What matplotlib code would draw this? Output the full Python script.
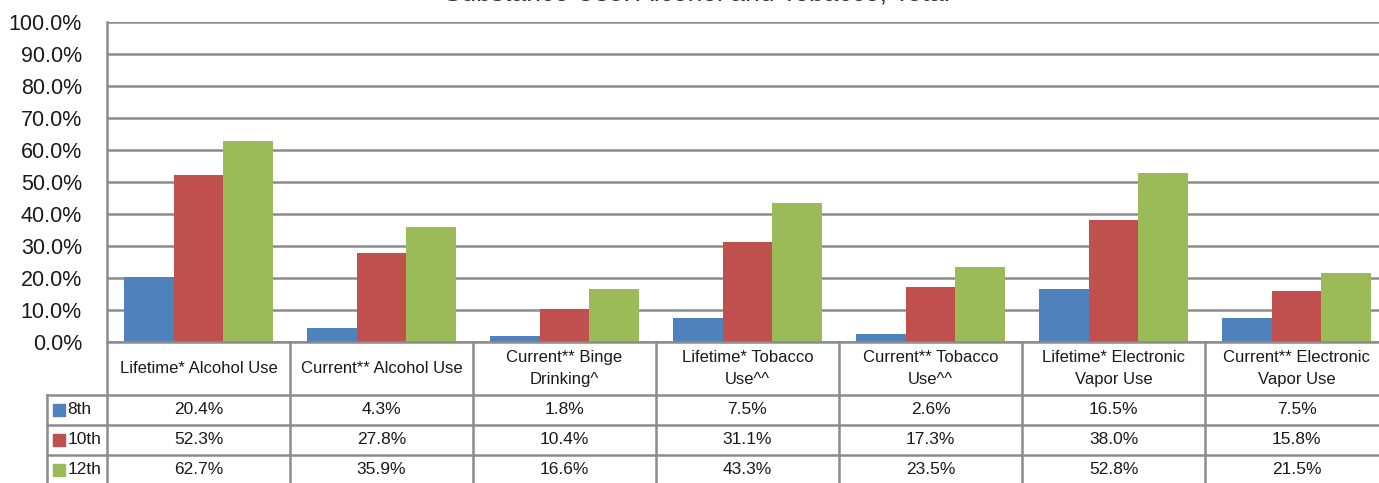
import matplotlib
matplotlib.use("Agg")
import matplotlib.pyplot as plt
import numpy as np

categories = ["Lifetime* Alcohol Use", "Current** Alcohol Use", "Current** Binge\nDrinking^",
              "Lifetime* Tobacco\nUse^^", "Current** Tobacco\nUse^^", "Lifetime* Electronic\nVapor Use",
              "Current** Electronic\nVapor Use"]
grades = ["8th", "10th", "12th"]
g8 = [20.4, 4.3, 1.8, 7.5, 2.6, 16.5, 7.5]
g10 = [52.3, 27.8, 10.4, 31.1, 17.3, 38.0, 15.8]
g12 = [62.7, 35.9, 16.6, 43.3, 23.5, 52.8, 21.5]
yticks = np.arange(0, 101, 10)

COLORS = ["#4F81BD", "#C0504D", "#9BBB59"]
GRID = "#8c8c8c"
INK = "#1a1a1a"
W, H = 1379, 483

plt.rcParams["font.family"] = ["Liberation Sans", "DejaVu Sans"]
fig = plt.figure(figsize=(W / 100, H / 100), dpi=100)

def px(x0, y0, x1, y1):
    return [x0 / W, 1 - y1 / H, (x1 - x0) / W, (y1 - y0) / H]

ax = fig.add_axes(px(107, 22, 1388, 342))
tab = fig.add_axes(px(107, 342, 1388, 485))

x = np.arange(len(categories))
bw = 0.27
for i, vals in enumerate([g8, g10, g12]):
    ax.bar(x + (i - 1) * bw, vals, bw, color=COLORS[i], zorder=3)
ax.set_xlim(-0.5, len(categories) - 0.5)
ax.set_ylim(0, 100)
ax.set_yticks(yticks)
ax.set_yticklabels([f"{v:.1f}%" for v in yticks], fontsize=15.5, color=INK)
ax.tick_params(axis="y", length=0, pad=18)
ax.set_xticks([])
ax.grid(True, axis="y", color=GRID, lw=1.8, zorder=0)
for s in ["top", "right", "bottom"]:
    ax.spines[s].set_visible(False)
ax.spines["left"].set_color(GRID)
ax.spines["left"].set_linewidth(1.8)

# data table under the plot
tab.set_xlim(-0.5, len(categories) - 0.5)
tab.set_ylim(143, 0)
tab.axis("off")
left = -0.5 - 60 / 183
rows = [53, 83, 113, 143]
lk = dict(color=GRID, lw=1.8, clip_on=False)
tab.plot([-0.5, 6.5], [0, 0], **lk)
for r in rows[:-1]:
    tab.plot([left, 6.5], [r, r], **lk)
for k in range(len(categories) + 1):
    tab.plot([k - 0.5, k - 0.5], [0, 143], **lk)
tab.plot([left, left], [53, 143], **lk)

for k, c in enumerate(categories):
    tab.text(k, 26.5, c, ha="center", va="center", fontsize=12, color=INK, linespacing=1.55)
for i, vals in enumerate([g8, g10, g12]):
    yc = rows[i] + 15
    for k, v in enumerate(vals):
        tab.text(k, yc, f"{v:.1f}%", ha="center", va="center", fontsize=12.5, color=INK)
    tab.scatter([left + 0.065], [yc], marker="s", s=70, color=COLORS[i], clip_on=False)
    tab.text(left + 0.11, yc, grades[i], ha="left", va="center", fontsize=12.5, color=INK)

# title sits mostly above the canvas, as in the source image
fig.text(697 / W, 1 - 0.5 / H, "Substance Use: Alcohol and Tobacco, Total", ha="center",
         va="baseline", fontsize=19, color="#333333")

fig.savefig("out.png", dpi=100, facecolor="white")
